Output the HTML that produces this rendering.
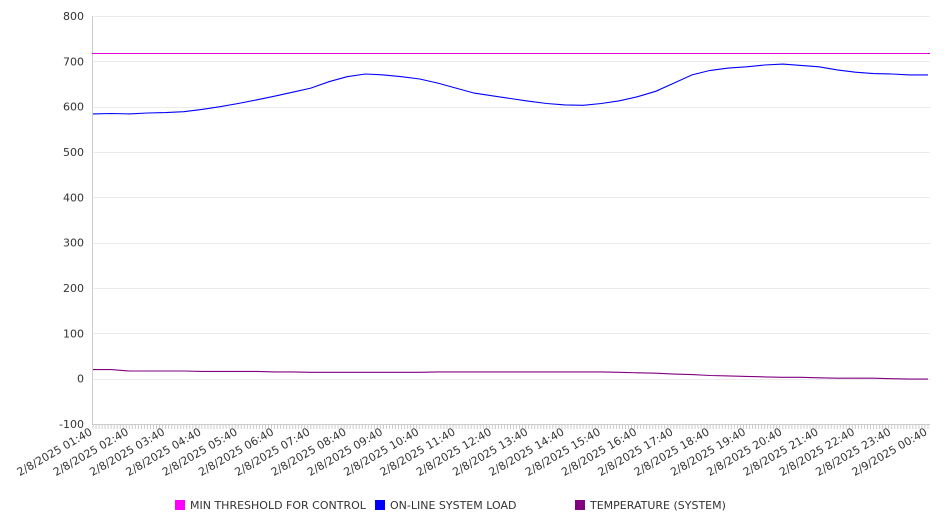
<!DOCTYPE html>
<html><head><meta charset="utf-8"><style>
body{margin:0;background:#fff;font-family:"DejaVu Sans","Liberation Sans",sans-serif}
svg text{font-family:"DejaVu Sans","Liberation Sans",sans-serif;font-size:11px;fill:#333}
</style></head><body>
<svg id="c" width="946" height="526"></svg>
<script>
const yTicks=[-100,0,100,200,300,400,500,600,700,800];
const hourLabels=["2/8/2025 01:40","2/8/2025 02:40","2/8/2025 03:40","2/8/2025 04:40","2/8/2025 05:40","2/8/2025 06:40","2/8/2025 07:40","2/8/2025 08:40","2/8/2025 09:40","2/8/2025 10:40","2/8/2025 11:40","2/8/2025 12:40","2/8/2025 13:40","2/8/2025 14:40","2/8/2025 15:40","2/8/2025 16:40","2/8/2025 17:40","2/8/2025 18:40","2/8/2025 19:40","2/8/2025 20:40","2/8/2025 21:40","2/8/2025 22:40","2/8/2025 23:40","2/9/2025 00:40"];
const loadValues=[584,585,584,586,587,589,594,600,607,615,623,632,641,655,666,672,670,666,661,652,641,630,624,618,612,607,604,603,607,613,622,634,652,670,680,685,688,692,694,691,688,681,676,673,672,670,670];
const tempValues=[20,20,17,17,17,17,16,16,16,16,15,15,14,14,14,14,14,14,14,15,15,15,15,15,15,15,15,15,15,14,13,12,10,9,7,6,5,4,3,3,2,1,1,1,0,-1,-1];
const thresholdValue=718;
const legendItems=[["MIN THRESHOLD FOR CONTROL","#ff00ff"],["ON-LINE SYSTEM LOAD","#0000ff"],["TEMPERATURE (SYSTEM)","#800080"]];
const NS="http://www.w3.org/2000/svg",svg=document.getElementById('c');
const L=92,R=930,T=16,B=424,hourPx=(928-93)/23;
const y=v=>B-(v+100)/900*(B-T);
const xh=h=>93+h*hourPx;
function el(t,a,p){const e=document.createElementNS(NS,t);for(const k in a)e.setAttribute(k,a[k]);(p||svg).appendChild(e);return e;}
yTicks.forEach(v=>{
 const g=el('line',{x1:L,x2:R,y1:Math.round(y(v))+0.5,y2:Math.round(y(v))+0.5,stroke:v===-100?'#ccc':'#ebebeb'});
 
 
 const t=el('text',{x:84,y:y(v)+4,'text-anchor':'end'});t.textContent=v;
 
 
});
el('line',{x1:L+0.5,x2:L+0.5,y1:T,y2:B,stroke:'#ccc'});
for(let m=0;m*hourPx/12+93<=R;m++){const xx=93+m*hourPx/12;el('line',{x1:xx,x2:xx,y1:B,y2:B+5,stroke:'#ccc'});}
hourLabels.forEach((s,i)=>{
 const t=el('text',{x:0,y:0,'text-anchor':'end',transform:`translate(${xh(i)},${B+10}) rotate(-30)`});t.textContent=s;
 
 
});
function series(vals,col,name){
 const d=vals.map((v,i)=>(i?'L':'M')+Math.min(xh(i*0.5),R).toFixed(1)+','+y(v).toFixed(1)).join('');
 const p=el('path',{d,fill:'none',stroke:col,'stroke-width':1.1});
 
 
}
const ty=Math.round(y(thresholdValue))+0.5;
const th=el('line',{x1:L,x2:R,y1:ty,y2:ty,stroke:'#e000e0'});


series(loadValues,'#0000ff','system-load-line');
series(tempValues,'#800080','temperature-line');
const lx=[175,375,575];
legendItems.forEach((it,i)=>{
 const g=el('g',{});
 
 
 el('rect',{x:lx[i],y:500,width:10,height:10,fill:it[1]},g);
 const t=el('text',{x:lx[i]+15,y:509},g);t.textContent=it[0];
});
</script>
</body></html>
